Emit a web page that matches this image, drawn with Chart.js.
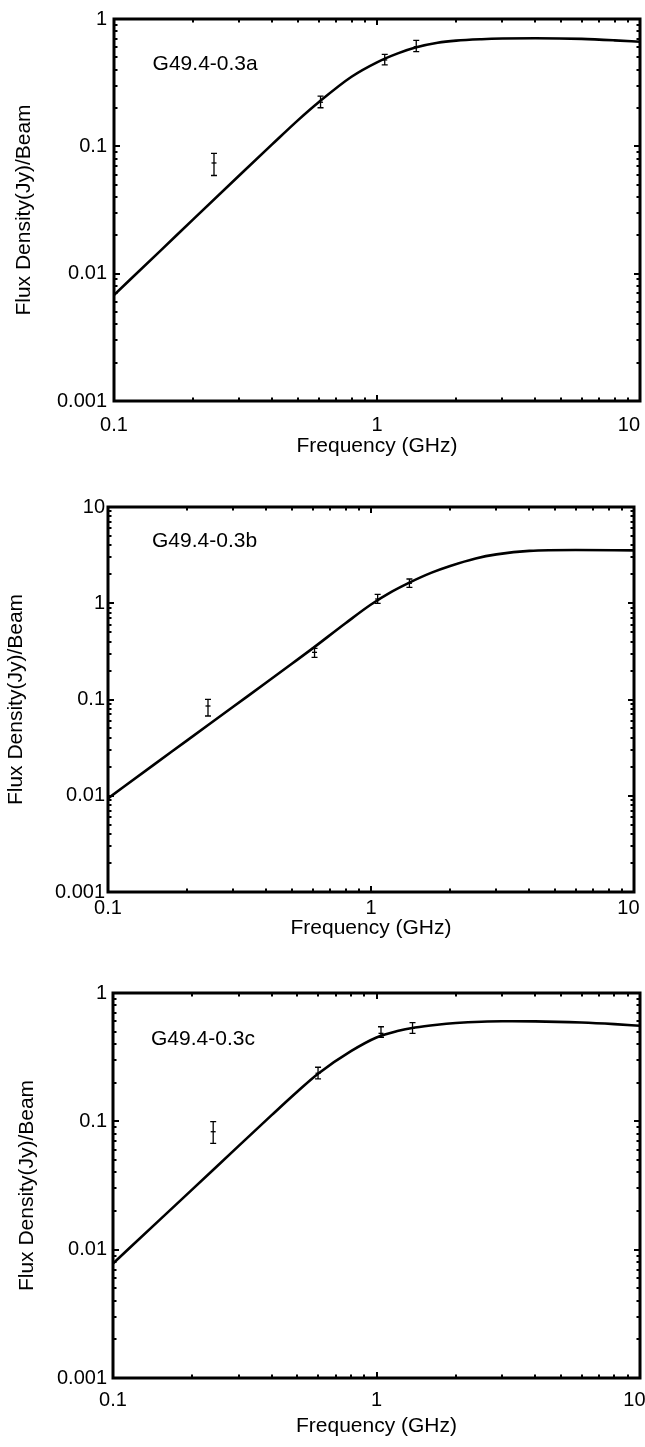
<!DOCTYPE html>
<html>
<head>
<meta charset="utf-8">
<script src="https://cdn.jsdelivr.net/npm/chart.js@4/dist/chart.umd.min.js"></script>
<style>
  html, body { margin: 0; padding: 0; background: #fff; overflow: hidden; width: 645px; height: 1447px; }
  canvas { position: absolute; left: 0; }
</style>
</head>
<body>
<canvas id="c1" width="700" height="470" style="top:0px"></canvas>
<canvas id="c2" width="700" height="490" style="top:470px"></canvas>
<canvas id="c3" width="700" height="487" style="top:960px"></canvas>
<script>
// ---------------- data ----------------
const xTitle = 'Frequency (GHz)';
const yTitle = 'Flux Density(Jy)/Beam';
const sourceNames = ['G49.4-0.3a', 'G49.4-0.3b', 'G49.4-0.3c'];

const xTickValues = [0.1, 1, 10];
const xTickLabels = ['0.1', '1', '10'];
const yTickValuesAC = [0.001, 0.01, 0.1, 1];
const yTickLabelsAC = ['0.001', '0.01', '0.1', '1'];
const yTickValuesB = [0.001, 0.01, 0.1, 1, 10];
const yTickLabelsB = ['0.001', '0.01', '0.1', '1', '10'];

// Panel a
const obsFreqA = [0.24, 0.61, 1.07, 1.41];
const obsFluxA = [0.074, 0.222, 0.477, 0.606];
const obsLowA  = [0.059, 0.201, 0.437, 0.554];
const obsHighA = [0.088, 0.248, 0.528, 0.679];
const fitFreqA = [0.1, 0.15, 0.2, 0.3, 0.4, 0.5, 0.6, 0.8, 1.0, 1.2, 1.4, 1.7, 2.0, 2.5, 3.0, 4.0, 6.0, 8.0, 10];
const fitFluxA = [0.0068, 0.0151, 0.0267, 0.0593, 0.104, 0.16, 0.222, 0.352, 0.457, 0.537, 0.597, 0.65, 0.676, 0.694, 0.702, 0.706, 0.698, 0.68, 0.662];

// Panel b
const obsFreqB = [0.24, 0.61, 1.06, 1.40];
const obsFluxB = [0.0856, 0.309, 1.107, 1.612];
const obsLowB  = [0.0674, 0.274, 0.999, 1.465];
const obsHighB = [0.1005, 0.340, 1.239, 1.786];
const fitFreqB = [0.1, 0.15, 0.2, 0.3, 0.4, 0.5, 0.6, 0.8, 1.0, 1.2, 1.4, 1.7, 2.0, 2.5, 3.0, 4.0, 6.0, 10];
const fitFluxB = [0.0094, 0.0212, 0.0376, 0.0846, 0.15, 0.235, 0.34, 0.62, 0.97, 1.32, 1.64, 2.08, 2.44, 2.92, 3.22, 3.5, 3.57, 3.54];

// Panel c
const obsFreqC = [0.24, 0.60, 1.04, 1.37];
const obsFluxC = [0.083, 0.237, 0.485, 0.531];
const obsLowC  = [0.0674, 0.214, 0.452, 0.485];
const obsHighC = [0.0993, 0.264, 0.546, 0.587];
const fitFreqC = [0.1, 0.15, 0.2, 0.3, 0.4, 0.5, 0.6, 0.8, 1.0, 1.2, 1.4, 1.7, 2.0, 2.5, 3.0, 4.0, 6.0, 8.0, 10];
const fitFluxC = [0.0078, 0.017, 0.0295, 0.0644, 0.1117, 0.17, 0.235, 0.352, 0.45, 0.505, 0.538, 0.566, 0.583, 0.597, 0.602, 0.601, 0.589, 0.572, 0.555];

// ---------------- styling / layout ----------------
const FONT = '"Liberation Sans", Arial, Helvetica, sans-serif';
Chart.defaults.font.family = FONT;
Chart.defaults.color = '#000';

const decorPlugin = {
  id: 'decor',
  afterDatasetsDraw(chart, args, o) {
    const { ctx, chartArea: a, scales: { x, y } } = chart;
    ctx.save();
    // error bars
    ctx.strokeStyle = '#000';
    ctx.lineWidth = 1.3;
    o.freq.forEach((f, i) => {
      const px = x.getPixelForValue(f);
      const pl = y.getPixelForValue(o.low[i]);
      const ph = y.getPixelForValue(o.high[i]);
      ctx.beginPath();
      ctx.moveTo(px, pl); ctx.lineTo(px, ph);
      ctx.moveTo(px - 3, pl); ctx.lineTo(px + 3, pl);
      ctx.moveTo(px - 3, ph); ctx.lineTo(px + 3, ph);
      ctx.stroke();
    });
    // inward log ticks on all four sides
    ctx.lineWidth = 2;
    const logTicks = (s) => {
      const out = [];
      const k0 = Math.floor(Math.log10(s.min) + 1e-9), k1 = Math.ceil(Math.log10(s.max) - 1e-9);
      for (let k = k0; k <= k1; k++) {
        for (let m = 1; m <= 9; m++) {
          const v = m * Math.pow(10, k);
          if (v >= s.min * (1 - 1e-9) && v <= s.max * (1 + 1e-9)) out.push({ v, major: m === 1 });
        }
      }
      return out;
    };
    ctx.beginPath();
    logTicks(x).forEach(t => {
      const px = Math.round(x.getPixelForValue(t.v));
      const len = t.major ? 6 : 3.5;
      ctx.moveTo(px, a.bottom); ctx.lineTo(px, a.bottom - len);
      ctx.moveTo(px, a.top); ctx.lineTo(px, a.top + len);
    });
    logTicks(y).forEach(t => {
      const py = Math.round(y.getPixelForValue(t.v));
      const len = t.major ? 6 : 3.5;
      ctx.moveTo(a.left, py); ctx.lineTo(a.left + len, py);
      ctx.moveTo(a.right, py); ctx.lineTo(a.right - len, py);
    });
    ctx.stroke();
    // frame
    ctx.lineWidth = 3;
    ctx.strokeRect(a.left, a.top, a.right - a.left, a.bottom - a.top);
    // source name
    ctx.fillStyle = '#000';
    ctx.font = '21px ' + FONT;
    ctx.textAlign = 'left';
    ctx.textBaseline = 'middle';
    ctx.fillText(o.name, a.left + o.nameDx, a.top + o.nameDy);
    ctx.restore();
  }
};

function makePanel(id, p) {
  const canvas = document.getElementById(id);
  const W = canvas.width, H = canvas.height;
  return new Chart(canvas, {
    data: {
      datasets: [
        {
          type: 'line',
          data: p.fitFreq.map((f, i) => ({ x: f, y: p.fitFlux[i] })),
          borderColor: '#000',
          borderWidth: 2.6,
          pointRadius: 0,
          cubicInterpolationMode: 'monotone',
          fill: false
        },
        {
          type: 'scatter',
          data: p.obsFreq.map((f, i) => ({ x: f, y: p.obsFlux[i] })),
          pointStyle: 'line',
          pointRadius: 2.5,
          borderColor: '#000',
          backgroundColor: '#000',
          borderWidth: 1.3
        }
      ]
    },
    options: {
      responsive: false,
      animation: false,
      events: [],
      layout: { padding: { left: 0, top: p.area.top, right: W - p.area.right, bottom: 0 } },
      plugins: {
        legend: { display: false },
        tooltip: { enabled: false },
        decor: { freq: p.obsFreq, low: p.obsLow, high: p.obsHigh, name: p.name, nameDx: p.nameDx, nameDy: p.nameDy }
      },
      scales: {
        x: {
          type: 'logarithmic',
          position: 'bottom',
          min: 0.1, max: 10,
          grid: { display: false, drawTicks: false },
          border: { display: false },
          afterBuildTicks: (s) => { s.ticks = xTickValues.map(v => ({ value: v })); },
          afterFit: (s) => { s.height = H - p.area.bottom; },
          ticks: {
            autoSkip: false, maxRotation: 0, minRotation: 0,
            padding: p.xTickPad,
            font: { size: 20 },
            callback: (v, i) => i === xTickLabels.length - 1 ? xTickLabels[i] + p.lastPad : xTickLabels[i]
          },
          title: { display: true, text: xTitle, font: { size: 21 }, padding: { top: 0, bottom: p.xTitlePad } }
        },
        y: {
          type: 'logarithmic',
          position: 'left',
          min: p.yTickValues[0], max: p.yTickValues[p.yTickValues.length - 1],
          grid: { display: false, drawTicks: false },
          border: { display: false },
          afterBuildTicks: (s) => { s.ticks = p.yTickValues.map(v => ({ value: v })); },
          afterFit: (s) => { s.width = p.area.left; },
          ticks: {
            autoSkip: false,
            padding: p.yTickPad,
            font: { size: 20 },
            callback: (v, i) => p.yTickLabels[i]
          },
          title: { display: true, text: yTitle, font: { size: 21 }, padding: { top: p.yTitlePad, bottom: 0 } }
        }
      }
    },
    plugins: [decorPlugin]
  });
}

makePanel('c1', {
  area: { left: 114, right: 640, top: 16, bottom: 401 },
  fitFreq: fitFreqA, fitFlux: fitFluxA,
  obsFreq: obsFreqA, obsFlux: obsFluxA, obsLow: obsLowA, obsHigh: obsHighA,
  yTickValues: yTickValuesAC, yTickLabels: yTickLabelsAC,
  name: sourceNames[0], nameDx: 38.6, nameDy: 45.7,
  xTickPad: 12.8, yTickPad: 7, xTitlePad: 10.7, yTitlePad: 11.2, lastPad: '\u2007\u2007'
});
makePanel('c2', {
  area: { left: 108, right: 634, top: 37, bottom: 422 },
  fitFreq: fitFreqB, fitFlux: fitFluxB,
  obsFreq: obsFreqB, obsFlux: obsFluxB, obsLow: obsLowB, obsHigh: obsHighB,
  yTickValues: yTickValuesB, yTickLabels: yTickLabelsB,
  name: sourceNames[1], nameDx: 44, nameDy: 34.7,
  xTickPad: 4, yTickPad: 3, xTitlePad: 19.4, yTitlePad: 3.9, lastPad: '\u2007'
});
makePanel('c3', {
  area: { left: 113, right: 640, top: 33, bottom: 418 },
  fitFreq: fitFreqC, fitFlux: fitFluxC,
  obsFreq: obsFreqC, obsFlux: obsFluxC, obsLow: obsLowC, obsHigh: obsHighC,
  yTickValues: yTickValuesAC, yTickLabels: yTickLabelsAC,
  name: sourceNames[2], nameDx: 38, nameDy: 46.3,
  xTickPad: 10, yTickPad: 6, xTitlePad: 7.7, yTitlePad: 14.4, lastPad: '\u2007'
});
</script>
</body>
</html>
